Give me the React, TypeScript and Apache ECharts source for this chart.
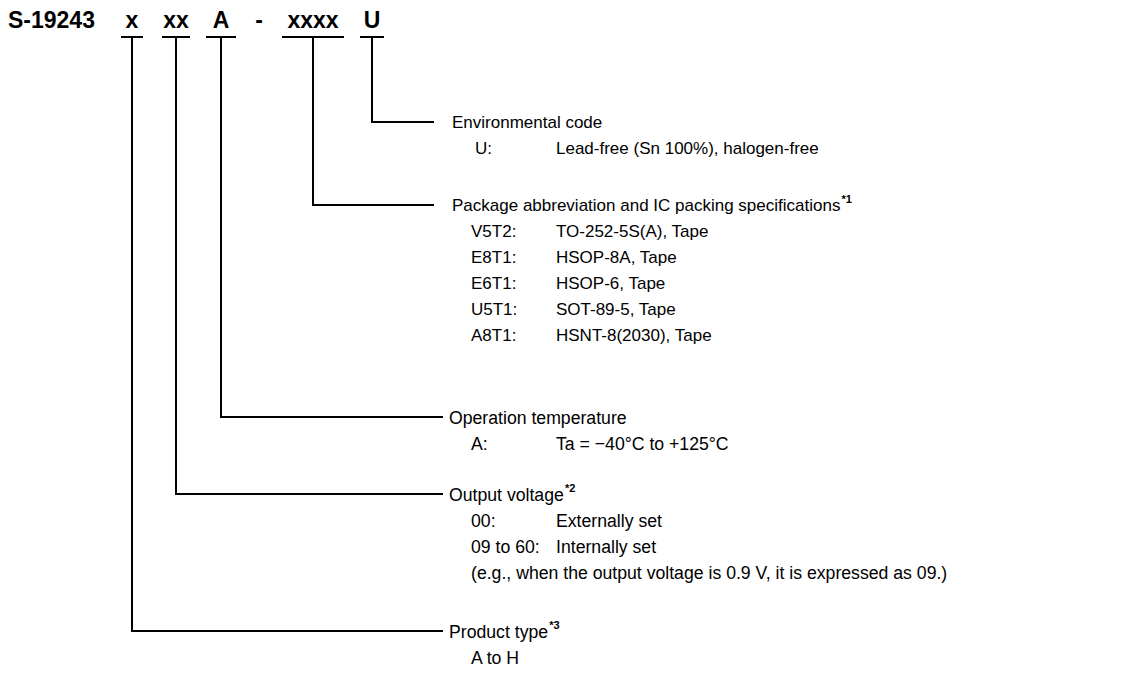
import React, { useEffect, useRef } from "react";
import * as echarts from "echarts";

// ---- content ----
const productPrefix = "S-19243";
const codeParts = ["x", "xx", "A", "-", "xxxx", "U"];

const envTitle = "Environmental code";
const envRows = [["U:", "Lead-free (Sn 100%), halogen-free"]];

const pkgTitle = "Package abbreviation and IC packing specifications";
const pkgNote = "*1";
const pkgRows = [
  ["V5T2:", "TO-252-5S(A), Tape"],
  ["E8T1:", "HSOP-8A, Tape"],
  ["E6T1:", "HSOP-6, Tape"],
  ["U5T1:", "SOT-89-5, Tape"],
  ["A8T1:", "HSNT-8(2030), Tape"],
];

const tempTitle = "Operation temperature";
const tempRows = [["A:", "Ta = \u221240\u00b0C to +125\u00b0C"]];

const voltTitle = "Output voltage";
const voltNote = "*2";
const voltRows = [
  ["00:", "Externally set"],
  ["09 to 60:", "Internally set"],
  ["(e.g., when the output voltage is 0.9 V, it is expressed as 09.)", ""],
];

const typeTitle = "Product type";
const typeNote = "*3";
const typeRows = [["A to H", ""]];

// ---- layout ----
const FONT = '"Liberation Sans", Arial, Helvetica, sans-serif';
const UPPER = { size: 17, sx: 1 };
const LOWER = { size: 19, sx: 0.93 };
const HEAD = 23;
const ROW = 26;
const UNDER_Y = 37;
const HEAD_Y = 20;
const partCenters = [132, 176, 221, 259, 313, 372];
const underHalf = [11, 14, 15, 0, 31, 12];

function measure(text: string, size: number, bold = false) {
  const c = document.createElement("canvas");
  const ctx = c.getContext("2d")!;
  ctx.font = `${bold ? "bold " : ""}${size}px ${FONT}`;
  return ctx.measureText(text).width;
}

type Branch = {
  part: number;
  y: number;
  lineEnd: number;
  titleX: number;
  labelX: number;
  valueX: number;
  font: { size: number; sx: number };
  title: string;
  note: string;
  rows: string[][];
};

const branches: Branch[] = [
  { part: 5, y: 122, lineEnd: 434, titleX: 452, labelX: 475, valueX: 556, font: UPPER, title: envTitle, note: "", rows: envRows },
  { part: 4, y: 205, lineEnd: 434, titleX: 452, labelX: 471, valueX: 556, font: UPPER, title: pkgTitle, note: pkgNote, rows: pkgRows },
  { part: 2, y: 417, lineEnd: 443, titleX: 449, labelX: 471, valueX: 556, font: LOWER, title: tempTitle, note: "", rows: tempRows },
  { part: 1, y: 494, lineEnd: 443, titleX: 449, labelX: 471, valueX: 556, font: LOWER, title: voltTitle, note: voltNote, rows: voltRows },
  { part: 0, y: 631, lineEnd: 443, titleX: 449, labelX: 471, valueX: 556, font: LOWER, title: typeTitle, note: typeNote, rows: typeRows },
];

function txt(x: number, y: number, text: string, size: number, bold = false, align = "left", sx = 1) {
  return {
    type: "text",
    x,
    y,
    scaleX: sx,
    style: {
      text,
      fill: "#000",
      font: `${bold ? "bold " : ""}${size}px ${FONT}`,
      fontSize: size,
      fontWeight: bold ? "bold" : "normal",
      fontFamily: FONT,
      align,
      verticalAlign: "middle",
    },
  };
}

function buildGraphics() {
  const els: any[] = [];
  els.push(txt(8, HEAD_Y, productPrefix, HEAD, true));
  codeParts.forEach((p, i) => {
    els.push(txt(partCenters[i], HEAD_Y, p, HEAD, true, "center"));
    if (underHalf[i] > 0) {
      els.push({
        type: "line",
        shape: { x1: partCenters[i] - underHalf[i], y1: UNDER_Y, x2: partCenters[i] + underHalf[i], y2: UNDER_Y },
        style: { stroke: "#000", lineWidth: 2 },
      });
    }
  });
  branches.forEach((b) => {
    const cx = partCenters[b.part];
    const f = b.font;
    els.push({
      type: "polyline",
      shape: { points: [[cx, UNDER_Y], [cx, b.y], [b.lineEnd, b.y]] },
      style: { stroke: "#000", lineWidth: 2, fill: null, lineJoin: "miter" },
    });
    els.push(txt(b.titleX, b.y, b.title, f.size, false, "left", f.sx));
    if (b.note) {
      const w = measure(b.title, f.size) * f.sx;
      els.push(txt(b.titleX + w + 1, b.y - 6, b.note, 11, true));
    }
    b.rows.forEach((r, j) => {
      const ry = b.y + ROW * (j + 1);
      els.push(txt(b.labelX, ry, r[0], f.size, false, "left", f.sx));
      if (r[1]) els.push(txt(b.valueX, ry, r[1], f.size, false, "left", f.sx));
    });
  });
  return els;
}

export default function App() {
  const ref = useRef<HTMLDivElement>(null);
  useEffect(() => {
    document.body.style.margin = "0";
    const chart = echarts.init(ref.current!, undefined, { renderer: "svg" });
    chart.setOption({
      animation: false,
      backgroundColor: "#fff",
      graphic: { elements: buildGraphics() },
    });
    return () => chart.dispose();
  }, []);
  return <div ref={ref} style={{ width: 1141, height: 680, background: "#fff" }} />;
}
